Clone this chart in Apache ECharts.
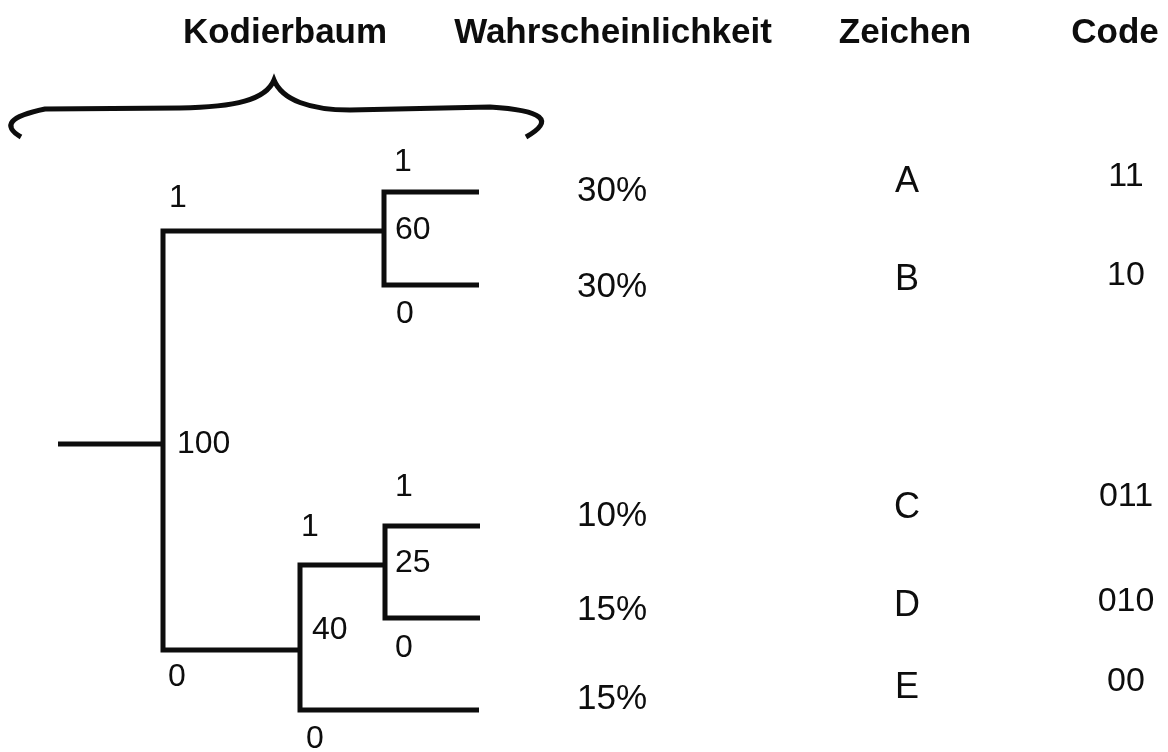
<!DOCTYPE html>
<html>
<head>
<meta charset="utf-8">
<style>
html,body{margin:0;padding:0;background:#fff;}
#chart{width:1168px;height:752px;}
</style>
<script src="https://cdn.jsdelivr.net/npm/echarts@6/dist/echarts.min.js"></script>
</head>
<body>
<div id="chart"></div>
<script>
// ---------- data ----------
const headers = ['Kodierbaum', 'Wahrscheinlichkeit', 'Zeichen', 'Code'];
const symbols = ['A', 'B', 'C', 'D', 'E'];
const probabilities = [30, 30, 10, 15, 15];
const codes = ['11', '10', '011', '010', '00'];
const innerNodes = ['root', 'n60', 'n40', 'n25'];
const innerValues = [100, 60, 40, 25];
// [parent, child, bit]
const edges = [
  ['root', 'n60', '1'], ['n60', 'A', '1'], ['n60', 'B', '0'],
  ['root', 'n40', '0'], ['n40', 'n25', '1'], ['n25', 'C', '1'],
  ['n25', 'D', '0'], ['n40', 'E', '0']
];

// ---------- layout (diagram coordinates) ----------
const nodePos = {
  root: [163, 444], n60: [384, 231], n40: [300, 650], n25: [385, 565],
  A: [479, 192], B: [479, 285], C: [480, 526], D: [480, 618], E: [479, 710]
};
const stemStartX = 58;
const valueLabelOffset = { root: [14, 0], n60: [11, -1], n40: [12, -20], n25: [10, -2] };
const bitLabelOffset = [[15, -33], [19, -30], [21, 29], [14, 27], [10, -38], [19, -39], [19, 30], [15, 29]];
const headerX = [285, 613, 905, 1115], headerY = 33;
const probX = 577, probY = [191, 287, 516, 610, 699];
const symX = 907, symY = [182, 280, 508, 606, 688];
const codeX = 1126, codeY = [177, 276, 497, 602, 682];
const bracePath = [
  ['M', 21, 137], ['Q', -8, 120, 45, 109], ['L', 180, 108],
  ['C', 235, 107, 266, 100, 274, 80], ['C', 282, 100, 310, 110, 350, 110],
  ['L', 490, 107], ['Q', 570, 112, 526, 137]
];

const FONT = "'Liberation Sans', Arial, Helvetica, sans-serif";
const INK = '#0d0d0d';

// ---------- build ----------
const lineData = [{ coords: [[stemStartX, nodePos.root[1]], nodePos.root] }];
edges.forEach(([p, c]) => {
  const P = nodePos[p], C = nodePos[c];
  lineData.push({ coords: [[P[0], P[1]], [P[0], C[1]], [C[0], C[1]]] });
});

function textSeries(items, font, weight, align) {
  return {
    type: 'scatter', symbolSize: 0, silent: true,
    itemStyle: { color: 'rgba(0,0,0,0)', opacity: 1 },
    data: items.map(it => ({
      value: it.pos,
      label: {
        show: true, formatter: it.text,
        position: align === 'left' ? 'right' : 'inside',
        distance: 0, opacity: 1,
        align: align, verticalAlign: 'middle',
        fontSize: font, fontWeight: weight, fontFamily: FONT, color: INK
      }
    }))
  };
}

const headerItems = headers.map((h, i) => ({ pos: [headerX[i], headerY], text: h }));
const probItems = probabilities.map((p, i) => ({ pos: [probX, probY[i]], text: p + '%' }));
const symItems = symbols.map((s, i) => ({ pos: [symX, symY[i]], text: s }));
const codeItems = codes.map((c, i) => ({ pos: [codeX, codeY[i]], text: c }));
const valueItems = innerNodes.map((n, i) => ({
  pos: [nodePos[n][0] + valueLabelOffset[n][0], nodePos[n][1] + valueLabelOffset[n][1]],
  text: String(innerValues[i])
}));
const bitItems = edges.map(([p, c, b], i) => ({
  pos: [nodePos[p][0] + bitLabelOffset[i][0], nodePos[c][1] + bitLabelOffset[i][1]],
  text: b
}));

const chart = echarts.init(document.getElementById('chart'), null, { renderer: 'canvas' });
chart.setOption({
  backgroundColor: '#ffffff',
  animation: false,
  grid: { left: 0, right: 0, top: 0, bottom: 0 },
  xAxis: { type: 'value', min: 0, max: 1168, show: false },
  yAxis: { type: 'value', min: 0, max: 752, inverse: true, show: false },
  series: [
    {
      type: 'lines', coordinateSystem: 'cartesian2d', polyline: true, silent: true,
      lineStyle: { color: INK, width: 5, opacity: 1, cap: 'butt', join: 'miter' },
      data: lineData
    },
    {
      type: 'custom', coordinateSystem: 'cartesian2d', silent: true,
      data: [[0, 0]],
      renderItem: function (params, api) {
        let d = '';
        bracePath.forEach(seg => {
          d += seg[0];
          for (let k = 1; k < seg.length; k += 2) {
            const pt = api.coord([seg[k], seg[k + 1]]);
            d += ' ' + pt[0].toFixed(1) + ' ' + pt[1].toFixed(1);
          }
          d += ' ';
        });
        return {
          type: 'path',
          shape: { pathData: d },
          style: { fill: null, stroke: INK, lineWidth: 5, lineCap: 'butt' }
        };
      }
    },
    textSeries(headerItems, 35, 'bold', 'center'),
    textSeries(probItems, 35, 'normal', 'left'),
    textSeries(symItems, 36, 'normal', 'center'),
    textSeries(codeItems, 34, 'normal', 'center'),
    textSeries(valueItems, 32, 'normal', 'left'),
    textSeries(bitItems, 32, 'normal', 'center')
  ]
});
</script>
</body>
</html>
